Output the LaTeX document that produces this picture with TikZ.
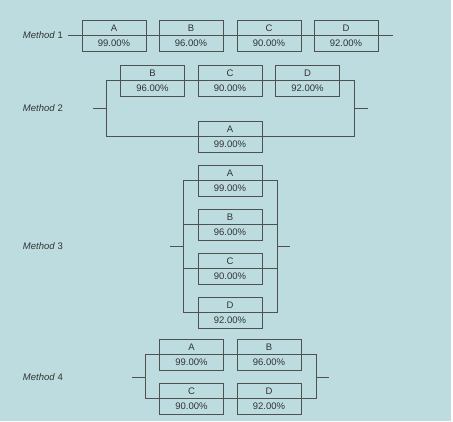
\documentclass[tikz,border=0pt]{standalone}
\usepackage{fontspec}
\setmainfont{Liberation Sans}
\usetikzlibrary{positioning}

\definecolor{bgteal}{HTML}{BCDCE0}
\definecolor{linegray}{HTML}{505050}
\definecolor{textgray}{HTML}{333333}

\tikzset{
  relbox/.style={draw=linegray, line width=0.7pt, minimum width=64pt, minimum height=31pt, inner sep=0pt},
  wire/.style={draw=linegray, line width=0.7pt},
  boxtext/.style={font=\fontsize{9.5}{10}\selectfont, text=textgray, inner sep=0pt},
  methodlabel/.style={font=\fontsize{9.5}{10}\selectfont, text=textgray, anchor=east, inner sep=0pt}
}

\newcommand{\unitbox}[4]{%
  \node[relbox] (#1) at (#2) {};
  \node[boxtext] (#1-name) at ([yshift=7.5pt]#1.center) {#3};
  \node[boxtext] (#1-val) at ([yshift=-7.5pt]#1.center) {#4};
}

\begin{document}
\begin{tikzpicture}[x=1pt, y=-1pt]
\useasboundingbox (0,0) rectangle (453,421);
\fill[bgteal] (0,0) rectangle (451,421);
\fill[white] (451,0) rectangle (453,421);

% Method 1
\node[methodlabel] (lab1) at (63,35.5) {\textit{Method} 1};
\coordinate (m1in) at (68,35.5);
\coordinate (m1out) at (393,35.5);
\draw[wire] (m1in) -- (m1out);
\unitbox{m1a}{114,35.5}{A}{99.00\%}
\unitbox{m1b}{191,35.5}{B}{96.00\%}
\unitbox{m1c}{269,35.5}{C}{90.00\%}
\unitbox{m1d}{346,35.5}{D}{92.00\%}

% Method 2
\node[methodlabel] (lab2) at (63,108) {\textit{Method} 2};
\coordinate (m2in) at (93,108);
\coordinate (m2jl) at (106,108);
\coordinate (m2jr) at (354,108);
\coordinate (m2out) at (368,108);
\unitbox{m2b}{152.5,80.5}{B}{96.00\%}
\unitbox{m2c}{230,80.5}{C}{90.00\%}
\unitbox{m2d}{307.5,80.5}{D}{92.00\%}
\unitbox{m2a}{230,136.5}{A}{99.00\%}
\draw[wire] (m2in) -- (m2jl);
\draw[wire] (m2jr) -- (m2out);
\draw[wire] (m2jl) |- (m2b.west) -- (m2d.east) -| (m2jr);
\draw[wire] (m2jl) |- (m2a.west) -- (m2a.east) -| (m2jr);

% Method 3
\node[methodlabel] (lab3) at (63,246) {\textit{Method} 3};
\coordinate (m3in) at (170,246);
\coordinate (m3jl) at (183,246);
\coordinate (m3jr) at (277,246);
\coordinate (m3out) at (290,246);
\unitbox{m3a}{230,180.5}{A}{99.00\%}
\unitbox{m3b}{230,224.5}{B}{96.00\%}
\unitbox{m3c}{230,268.5}{C}{90.00\%}
\unitbox{m3d}{230,312.5}{D}{92.00\%}
\draw[wire] (m3in) -- (m3jl);
\draw[wire] (m3jr) -- (m3out);
\foreach \n in {a,b,c,d}
  \draw[wire] (m3jl) |- (m3\n.west) -- (m3\n.east) -| (m3jr);

% Method 4
\node[methodlabel] (lab4) at (63,377) {\textit{Method} 4};
\coordinate (m4in) at (132,377);
\coordinate (m4jl) at (145,377);
\coordinate (m4jr) at (316,377);
\coordinate (m4out) at (329,377);
\unitbox{m4a}{191.5,354.5}{A}{99.00\%}
\unitbox{m4b}{269,354.5}{B}{96.00\%}
\unitbox{m4c}{191.5,398.5}{C}{90.00\%}
\unitbox{m4d}{269,398.5}{D}{92.00\%}
\draw[wire] (m4in) -- (m4jl);
\draw[wire] (m4jr) -- (m4out);
\foreach \p/\q in {a/b,c/d}
  \draw[wire] (m4jl) |- (m4\p.west) -- (m4\q.east) -| (m4jr);
\end{tikzpicture}
\end{document}
